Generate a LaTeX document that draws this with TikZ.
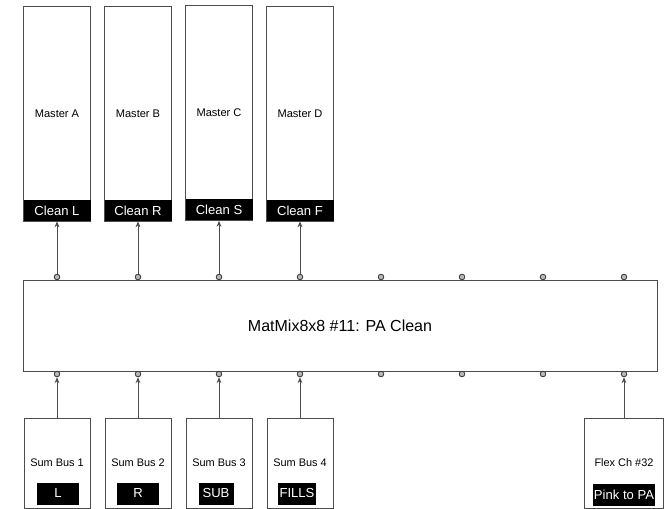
\documentclass[tikz,border=0pt]{standalone}
\usepackage{fontspec}
\setmainfont{Liberation Sans}
\usetikzlibrary{arrows.meta}
\definecolor{linegray}{gray}{0.3}
\definecolor{portgray}{gray}{0.72}

\begin{document}
\begin{tikzpicture}[
  x=0.75pt, y=-0.75pt,
  master/.style={draw=linegray, line width=0.7pt, minimum width=50.25pt, minimum height=161.25pt, inner sep=0pt, font=\fontsize{8.3}{10}\selectfont},
  outbar/.style={fill=black, text=white, minimum width=50.25pt, minimum height=15.75pt, inner sep=0pt, font=\fontsize{9.8}{11}\selectfont},
  mixbox/.style={draw=linegray, line width=0.7pt, minimum width=475.5pt, minimum height=68.25pt, inner sep=0pt, font=\fontsize{12}{14}\selectfont},
  bus/.style={draw=linegray, line width=0.7pt, minimum width=49.5pt, minimum height=67.5pt, inner sep=0pt, font=\fontsize{8.2}{10}\selectfont},
  tag/.style={fill=black, text=white, minimum height=16.5pt, inner xsep=1pt, inner ysep=0pt, font=\fontsize{9.8}{11}\selectfont},
  port/.style={circle, draw=black!80, fill=portgray, line width=0.6pt, inner sep=0pt, minimum size=4.2pt},
  wire/.style={draw=linegray, line width=0.7pt, -{Stealth[length=4.5pt,width=3.6pt]}}
]
  \useasboundingbox (0,0) rectangle (671,509);

  % masters with their outputs
  \node[master] (mA) at (57,113.5) {Master A};
  \node[master] (mB) at (138,113.5) {Master B};
  \node[master] (mC) at (219,113) {Master C};
  \node[master] (mD) at (300,113.5) {Master D};
  \node[outbar] (cleanL) at (57,210.5) {Clean L};
  \node[outbar] (cleanR) at (138,210.5) {Clean R};
  \node[outbar] (cleanS) at (219,210) {Clean S};
  \node[outbar] (cleanF) at (300,210.5) {Clean F};

  % matrix mixer
  \node[mixbox] (mix) at (340,325.5) {MatMix8x8 \#11: PA Clean};
  \foreach \i in {0,...,7} {
    \node[port] (top\i) at ({57+81*\i},277) {};
    \node[port] (bot\i) at ({57+81*\i},374) {};
  }

  % sources
  \node[bus] (sum1) at (57,463) {Sum Bus 1};
  \node[bus] (sum2) at (138,463) {Sum Bus 2};
  \node[bus] (sum3) at (219,463) {Sum Bus 3};
  \node[bus] (sum4) at (300,463) {Sum Bus 4};
  \node[bus, minimum width=59.25pt] (flex) at (624,463) {Flex Ch \#32};
  \node[tag, minimum width=31.5pt] (tagL) at (58,493.5) {L};
  \node[tag, minimum width=31.5pt] (tagR) at (138,493.5) {R};
  \node[tag, minimum width=26.25pt] (tagSub) at (216,493.5) {SUB};
  \node[tag] (tagFills) at (297,493.5) {FILLS};
  \node[tag] (tagPink) at (624,494.5) {Pink to PA};

  \draw[wire] (top0) -- (cleanL);
  \draw[wire] (top1) -- (cleanR);
  \draw[wire] (top2) -- (cleanS);
  \draw[wire] (top3) -- (cleanF);
  \draw[wire] (sum1) -- (bot0);
  \draw[wire] (sum2) -- (bot1);
  \draw[wire] (sum3) -- (bot2);
  \draw[wire] (sum4) -- (bot3);
  \draw[wire] (flex) -- (bot7);
\end{tikzpicture}
\end{document}
